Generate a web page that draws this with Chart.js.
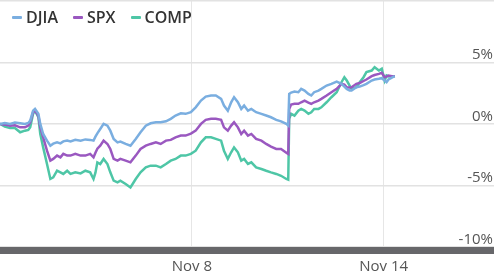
<!DOCTYPE html>
<html>
<head>
<meta charset="utf-8">
<script src="https://cdn.jsdelivr.net/npm/chart.js@4"></script>
<style>
  html, body { margin: 0; padding: 0; background: #fff; }
  #wrap { position: relative; width: 494px; height: 279px; }
  #legend { position: absolute; left: 12px; top: 7px; display: flex; font: 600 16px "Open Sans", sans-serif; color: #333; line-height: 20px; }
  .item { display: flex; align-items: center; margin-right: 15px; }
  .swatch { width: 10px; height: 3px; margin-right: 4px; border-radius: 1px; }
</style>
</head>
<body>
<div id="wrap">
  <canvas id="chart" width="494" height="279"></canvas>
  <div id="legend"></div>
</div>
<script>
// trading sessions, Nov 2 open = 0
const sessionDays = ['Nov 2', 'Nov 3', 'Nov 4', 'Nov 7', 'Nov 8', 'Nov 9', 'Nov 10', 'Nov 11', 'Nov 14'];
const tickDays = [4, 8];
const yTicks = [-10, -5, 0, 5, 10];

const seriesNames = ['DJIA', 'SPX', 'COMP'];
const seriesColors = ['#7aaee0', '#9a58c0', '#4ec6a6'];

const sessions = [
  0, 0.10, 0.21, 0.31, 0.42, 0.52, 0.59, 0.63, 0.69, 0.73,
  0.80, 0.84, 0.90, 0.98, 1.05, 1.11, 1.19, 1.26, 1.32, 1.40,
  1.47, 1.57, 1.68, 1.78, 1.88, 1.95, 1.99, 2.03, 2.09, 2.16,
  2.24, 2.30, 2.37, 2.45, 2.51, 2.62, 2.72, 2.83, 2.93, 3.04,
  3.14, 3.25, 3.35, 3.46, 3.56, 3.66, 3.77, 3.87, 3.98, 4.08,
  4.19, 4.29, 4.40, 4.50, 4.61, 4.67, 4.75, 4.82, 4.88, 4.96,
  5.03, 5.09, 5.17, 5.24, 5.34, 5.45, 5.55, 5.65, 5.76, 5.86,
  5.97, 6.01, 6.03, 6.07, 6.14, 6.22, 6.28, 6.35, 6.43, 6.49,
  6.55, 6.64, 6.70, 6.81, 6.91, 7.02, 7.12, 7.18, 7.23, 7.29,
  7.33, 7.43, 7.50, 7.58, 7.64, 7.75, 7.81, 7.90, 7.96, 8.02,
  8.06, 8.10, 8.17, 8.23
];

const djia = [
  0, 0.08, 0, 0.11, 0.05, 0, 0.08, 0.27, 1.08, 1.22,
  0.82, 0, -0.82, -1.36, -1.77, -1.61, -1.50, -1.58, -1.42, -1.36,
  -1.42, -1.30, -1.36, -1.26, -1.30, -1.36, -1.04, -0.77, -0.41, 0,
  -0.14, -0.55, -1.22, -1.50, -1.44, -1.63, -1.77, -1.22, -0.68, -0.14,
  0.05, 0.13, 0.13, 0.21, 0.41, 0.68, 0.86, 0.82, 0.95, 1.35,
  1.90, 2.22, 2.31, 2.31, 2.04, 1.49, 1.08, 1.76, 2.17, 1.76,
  1.22, 1.49, 1.08, 1.22, 0.95, 0.82, 0.68, 0.54, 0.33, 0.21,
  0, -0.14, 2.44, 2.55, 2.63, 2.58, 2.85, 2.71, 2.44, 2.31,
  2.58, 2.71, 2.85, 3.12, 3.26, 3.45, 3.26, 3.04, 2.85, 2.71,
  2.71, 2.98, 3.04, 3.16, 3.26, 3.53, 3.61, 3.67, 3.72, 3.53,
  3.39, 3.61, 3.77, 3.88
];

const spx = [
  0, -0.06, -0.14, -0.11, -0.28, -0.28, -0.14, 0.13, 0.95, 1.08,
  0.68, -0.28, -1.09, -2.18, -2.99, -2.85, -2.58, -2.72, -2.44, -2.58,
  -2.58, -2.44, -2.58, -2.58, -2.44, -2.72, -2.34, -2.01, -1.77, -1.36,
  -1.63, -2.04, -2.85, -2.99, -2.85, -2.99, -3.13, -2.58, -2.04, -1.77,
  -1.63, -1.50, -1.63, -1.36, -1.30, -1.09, -0.95, -0.95, -0.79, -0.55,
  0, 0.33, 0.41, 0.41, 0.33, -0.28, -0.55, -0.14, 0.13, -0.28,
  -0.82, -0.55, -0.95, -0.82, -1.22, -1.36, -1.63, -1.85, -2.04, -2.04,
  -2.34, -2.44, 1.22, 1.57, 1.63, 1.63, 1.76, 1.90, 1.74, 1.63,
  1.76, 1.90, 2.04, 2.31, 2.58, 2.85, 3.26, 3.20, 2.98, 2.96,
  2.98, 3.26, 3.33, 3.49, 3.61, 3.88, 3.98, 4.07, 4.16, 3.80,
  3.85, 3.94, 3.88, 3.88
];

const comp = [
  0, -0.22, -0.33, -0.33, -0.68, -0.55, -0.49, -0.28, 0.82, 1.08,
  0.54, -0.82, -1.91, -3.26, -4.48, -4.35, -3.81, -3.94, -4.07, -3.81,
  -4.07, -3.94, -4.03, -3.81, -3.94, -4.48, -3.97, -3.13, -3.26, -2.85,
  -3.26, -3.94, -4.62, -4.76, -4.62, -4.89, -5.17, -4.48, -3.94, -3.54,
  -3.40, -3.40, -3.54, -3.26, -2.99, -2.85, -2.58, -2.58, -2.44, -2.18,
  -1.50, -1.09, -1.09, -1.22, -1.36, -2.18, -2.85, -2.31, -1.91, -2.31,
  -2.99, -2.85, -3.26, -3.13, -3.54, -3.67, -3.81, -3.94, -4.07, -4.22,
  -4.48, -4.54, 0.41, 0.82, 0.68, 1.08, 1.22, 1.08, 0.82, 0.95,
  1.22, 1.22, 1.35, 1.76, 2.17, 2.58, 3.39, 3.80, 3.53, 3.12,
  2.85, 2.98, 3.39, 3.80, 4.21, 4.34, 4.61, 4.34, 4.49, 3.53,
  3.94, 3.86, 3.88, 3.88
];

const seriesValues = [djia, spx, comp];
const axisFont = { family: 'Open Sans', size: 15 };

const chart = new Chart(document.getElementById('chart').getContext('2d'), {
  type: 'line',
  data: {
    datasets: seriesNames.map((name, k) => ({
      label: name,
      data: sessions.map((t, i) => ({ x: t, y: seriesValues[k][i] })),
      borderColor: seriesColors[k],
      backgroundColor: seriesColors[k],
      borderWidth: 2.5,
      pointRadius: 0,
      tension: 0,
      fill: false
    }))
  },
  options: {
    responsive: false,
    animation: false,
    layout: { padding: { top: 1, left: 0, right: 0, bottom: 0 } },
    plugins: { legend: { display: false }, tooltip: { enabled: false } },
    scales: {
      x: {
        type: 'linear',
        min: 0,
        max: 10.3,
        afterBuildTicks: s => { s.ticks = tickDays.map(v => ({ value: v })); },
        afterFit: s => { s.height = 28.5; s.paddingLeft = 0; s.paddingRight = 0; },
        grid: { color: '#e6e6e6', lineWidth: 1, drawTicks: false },
        border: { display: true, color: '#67676a', width: 7 },
        ticks: {
          padding: 7, color: '#555', font: axisFont,
          maxRotation: 0, autoSkip: false,
          callback: v => sessionDays[v]
        }
      },
      y: {
        position: 'right',
        min: -10.3,
        max: 10,
        afterBuildTicks: s => { s.ticks = yTicks.map(v => ({ value: v })); },
        afterFit: s => { s.width = 0; s.paddingTop = 0; s.paddingBottom = 0; },
        grid: { color: '#e2e2e2', lineWidth: 1.5, drawTicks: false },
        border: { display: false },
        ticks: {
          mirror: true, align: 'end', padding: -1,
          color: '#555', font: axisFont,
          callback: v => (v === 10 ? '' : v + '%')
        }
      }
    }
  }
});

// html legend built from the series lists
const legendEl = document.getElementById('legend');
seriesNames.forEach((name, k) => {
  const item = document.createElement('div');
  item.className = 'item';
  const sw = document.createElement('span');
  sw.className = 'swatch';
  sw.style.background = seriesColors[k];
  const txt = document.createElement('span');
  txt.textContent = name;
  item.appendChild(sw);
  item.appendChild(txt);
  legendEl.appendChild(item);
});
</script>
</body>
</html>
